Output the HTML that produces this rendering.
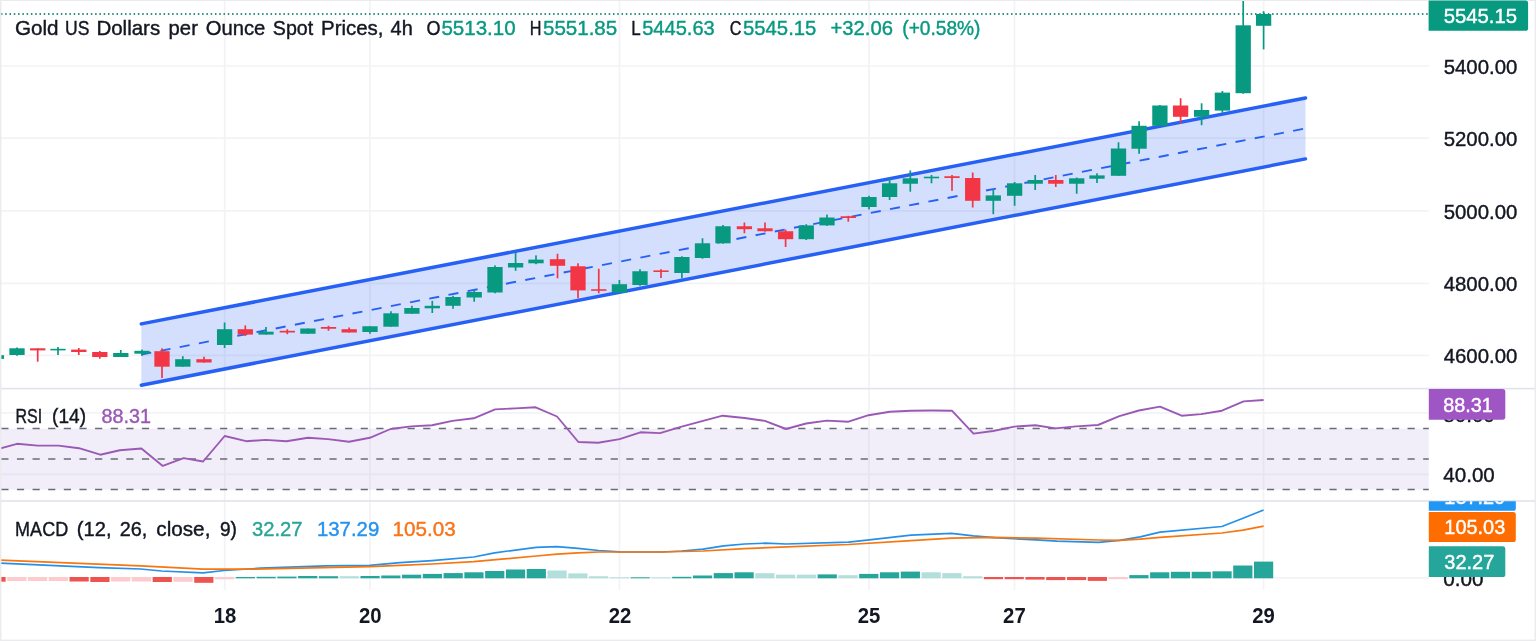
<!DOCTYPE html>
<html><head><meta charset="utf-8"><title>Gold chart</title>
<style>html,body{margin:0;padding:0;background:#fff;overflow:hidden}body{width:1536px;height:641px;position:relative;font-family:"Liberation Sans",sans-serif}</style>
</head><body>
<svg width="1536" height="641" viewBox="0 0 1536 641" style="position:absolute;left:0;top:0;will-change:transform;opacity:0.999;font-family:'Liberation Sans',sans-serif">
<rect x="0" y="0" width="1536" height="641" fill="#ffffff"/>
<line x1="224.7" y1="1" x2="224.7" y2="590" stroke="#f3f3f6" stroke-width="1.7"/>
<line x1="369.9" y1="1" x2="369.9" y2="590" stroke="#f3f3f6" stroke-width="1.7"/>
<line x1="619.5" y1="1" x2="619.5" y2="590" stroke="#f3f3f6" stroke-width="1.7"/>
<line x1="869.0" y1="1" x2="869.0" y2="590" stroke="#f3f3f6" stroke-width="1.7"/>
<line x1="1014.5" y1="1" x2="1014.5" y2="590" stroke="#f3f3f6" stroke-width="1.7"/>
<line x1="1263.6" y1="1" x2="1263.6" y2="590" stroke="#f3f3f6" stroke-width="1.7"/>
<line x1="1" y1="66" x2="1428.8" y2="66" stroke="#f3f3f6" stroke-width="1.7"/>
<line x1="1" y1="138.2" x2="1428.8" y2="138.2" stroke="#f3f3f6" stroke-width="1.7"/>
<line x1="1" y1="210.8" x2="1428.8" y2="210.8" stroke="#f3f3f6" stroke-width="1.7"/>
<line x1="1" y1="283.4" x2="1428.8" y2="283.4" stroke="#f3f3f6" stroke-width="1.7"/>
<line x1="1" y1="355.3" x2="1428.8" y2="355.3" stroke="#f3f3f6" stroke-width="1.7"/>
<line x1="1" y1="412.9" x2="1428.8" y2="412.9" stroke="#f3f3f6" stroke-width="1.7"/>
<line x1="1" y1="474.4" x2="1428.8" y2="474.4" stroke="#f3f3f6" stroke-width="1.7"/>
<line x1="1" y1="577.8" x2="1428.8" y2="577.8" stroke="#f3f3f6" stroke-width="1.7"/>
<rect x="0" y="428.7" width="1428.8" height="60.9" fill="#7e57c2" fill-opacity="0.1"/>
<line x1="1.3" y1="428.6" x2="1428.8" y2="428.6" stroke="#696c77" stroke-width="1.5" stroke-dasharray="7.2 8.425"/>
<line x1="1.3" y1="459.1" x2="1428.8" y2="459.1" stroke="#696c77" stroke-width="1.5" stroke-dasharray="7.2 8.425"/>
<line x1="1.3" y1="489.6" x2="1428.8" y2="489.6" stroke="#696c77" stroke-width="1.5" stroke-dasharray="7.2 8.425"/>
<line x1="0.95" y1="14.0" x2="1428.8" y2="14.0" stroke="#2f8f7e" stroke-width="2" stroke-dasharray="1.5 2.78"/>
<polygon points="141.3,323.9 1305.5,98.0 1305.5,158.9 141.3,385.2" fill="#2760f4" fill-opacity="0.2"/>
<line x1="141.3" y1="354.54999999999995" x2="1305.5" y2="128.45" stroke="#2760f4" stroke-width="1.9" stroke-dasharray="10.1 9.456"/>
<line x1="141.3" y1="323.9" x2="1305.5" y2="98.0" stroke="#2760f4" stroke-width="3.5" stroke-linecap="round"/>
<line x1="141.3" y1="385.2" x2="1305.5" y2="158.9" stroke="#2760f4" stroke-width="3.5" stroke-linecap="round"/>
<rect x="-4.45" y="354.6" width="1.7" height="4.60" fill="#089981"/>
<rect x="-11.25" y="355.2" width="15.3" height="3.70" fill="#089981"/>
<rect x="16.15" y="347.5" width="1.7" height="8.30" fill="#089981"/>
<rect x="9.35" y="348.3" width="15.3" height="6.70" fill="#089981"/>
<rect x="36.85" y="348.3" width="1.7" height="13.40" fill="#f23645"/>
<rect x="30.05" y="348.3" width="15.3" height="2.10" fill="#f23645"/>
<rect x="57.15" y="347.0" width="1.7" height="8.00" fill="#089981"/>
<rect x="50.35" y="348.8" width="15.3" height="1.60" fill="#089981"/>
<rect x="77.95" y="348.0" width="1.7" height="7.00" fill="#f23645"/>
<rect x="71.15" y="349.6" width="15.3" height="2.40" fill="#f23645"/>
<rect x="98.95" y="351.0" width="1.7" height="7.70" fill="#f23645"/>
<rect x="92.15" y="352.0" width="15.3" height="5.00" fill="#f23645"/>
<rect x="119.95" y="350.0" width="1.7" height="7.00" fill="#089981"/>
<rect x="113.15" y="353.0" width="15.3" height="4.00" fill="#089981"/>
<rect x="141.15" y="349.6" width="1.7" height="6.20" fill="#089981"/>
<rect x="134.35" y="350.8" width="15.3" height="2.90" fill="#089981"/>
<rect x="161.15" y="348.3" width="1.7" height="29.70" fill="#f23645"/>
<rect x="154.35" y="351.2" width="15.3" height="15.50" fill="#f23645"/>
<rect x="181.95" y="356.2" width="1.7" height="10.50" fill="#089981"/>
<rect x="175.15" y="359.2" width="15.3" height="7.50" fill="#089981"/>
<rect x="203.15" y="356.7" width="1.7" height="5.80" fill="#f23645"/>
<rect x="196.35" y="359.2" width="15.3" height="3.30" fill="#f23645"/>
<rect x="223.75" y="322.5" width="1.7" height="25.50" fill="#089981"/>
<rect x="216.95" y="329.2" width="15.3" height="15.80" fill="#089981"/>
<rect x="244.45" y="325.4" width="1.7" height="10.40" fill="#f23645"/>
<rect x="237.65" y="329.2" width="15.3" height="5.40" fill="#f23645"/>
<rect x="265.15" y="327.0" width="1.7" height="7.60" fill="#089981"/>
<rect x="258.35" y="331.7" width="15.3" height="2.90" fill="#089981"/>
<rect x="286.45" y="329.2" width="1.7" height="5.00" fill="#f23645"/>
<rect x="279.65" y="330.8" width="15.3" height="1.70" fill="#f23645"/>
<rect x="307.05" y="328.5" width="1.7" height="5.25" fill="#089981"/>
<rect x="300.25" y="328.5" width="15.3" height="5.25" fill="#089981"/>
<rect x="327.65" y="325.8" width="1.7" height="5.00" fill="#f23645"/>
<rect x="320.85" y="327.0" width="15.3" height="1.75" fill="#f23645"/>
<rect x="348.35" y="327.5" width="1.7" height="5.00" fill="#f23645"/>
<rect x="341.55" y="329.2" width="15.3" height="3.30" fill="#f23645"/>
<rect x="369.15" y="326.25" width="1.7" height="7.50" fill="#089981"/>
<rect x="362.35" y="326.25" width="15.3" height="5.75" fill="#089981"/>
<rect x="390.15" y="311.25" width="1.7" height="15.45" fill="#089981"/>
<rect x="383.35" y="313.3" width="15.3" height="13.40" fill="#089981"/>
<rect x="411.05" y="305.8" width="1.7" height="7.95" fill="#089981"/>
<rect x="404.25" y="308.0" width="15.3" height="5.75" fill="#089981"/>
<rect x="431.45" y="300.8" width="1.7" height="12.20" fill="#089981"/>
<rect x="424.65" y="305.8" width="15.3" height="2.50" fill="#089981"/>
<rect x="452.15" y="295.8" width="1.7" height="12.95" fill="#089981"/>
<rect x="445.35" y="297.0" width="15.3" height="8.80" fill="#089981"/>
<rect x="473.35" y="290.4" width="1.7" height="11.30" fill="#089981"/>
<rect x="466.55" y="292.0" width="15.3" height="5.50" fill="#089981"/>
<rect x="494.15" y="265.4" width="1.7" height="27.90" fill="#089981"/>
<rect x="487.35" y="267.0" width="15.3" height="25.50" fill="#089981"/>
<rect x="514.75" y="252.5" width="1.7" height="18.30" fill="#089981"/>
<rect x="507.95" y="263.0" width="15.3" height="4.50" fill="#089981"/>
<rect x="535.15" y="255.4" width="1.7" height="8.80" fill="#089981"/>
<rect x="528.35" y="259.6" width="15.3" height="3.70" fill="#089981"/>
<rect x="556.65" y="253.75" width="1.7" height="24.55" fill="#f23645"/>
<rect x="549.85" y="259.2" width="15.3" height="6.60" fill="#f23645"/>
<rect x="577.15" y="263.3" width="1.7" height="35.00" fill="#f23645"/>
<rect x="570.35" y="266.25" width="15.3" height="24.15" fill="#f23645"/>
<rect x="597.90" y="268.75" width="1.7" height="24.55" fill="#f23645"/>
<rect x="591.10" y="289.2" width="15.3" height="1.60" fill="#f23645"/>
<rect x="618.55" y="280.0" width="1.7" height="12.50" fill="#089981"/>
<rect x="611.75" y="284.2" width="15.3" height="8.30" fill="#089981"/>
<rect x="639.15" y="269.2" width="1.7" height="16.60" fill="#089981"/>
<rect x="632.35" y="271.25" width="15.3" height="13.75" fill="#089981"/>
<rect x="660.15" y="269.2" width="1.7" height="8.80" fill="#f23645"/>
<rect x="653.35" y="270.4" width="15.3" height="1.60" fill="#f23645"/>
<rect x="681.05" y="256.25" width="1.7" height="22.05" fill="#089981"/>
<rect x="674.25" y="257.0" width="15.3" height="16.00" fill="#089981"/>
<rect x="701.65" y="238.3" width="1.7" height="20.45" fill="#089981"/>
<rect x="694.85" y="243.3" width="15.3" height="14.70" fill="#089981"/>
<rect x="722.15" y="225.0" width="1.7" height="18.75" fill="#089981"/>
<rect x="715.35" y="226.25" width="15.3" height="17.05" fill="#089981"/>
<rect x="743.55" y="222.5" width="1.7" height="10.80" fill="#f23645"/>
<rect x="736.75" y="226.25" width="15.3" height="2.95" fill="#f23645"/>
<rect x="764.15" y="222.5" width="1.7" height="9.20" fill="#f23645"/>
<rect x="757.35" y="228.3" width="15.3" height="2.95" fill="#f23645"/>
<rect x="784.75" y="229.6" width="1.7" height="17.40" fill="#f23645"/>
<rect x="777.95" y="231.25" width="15.3" height="7.95" fill="#f23645"/>
<rect x="805.40" y="224.2" width="1.7" height="15.80" fill="#089981"/>
<rect x="798.60" y="225.4" width="15.3" height="13.80" fill="#089981"/>
<rect x="826.15" y="214.6" width="1.7" height="11.20" fill="#089981"/>
<rect x="819.35" y="217.5" width="15.3" height="7.90" fill="#089981"/>
<rect x="847.45" y="215.8" width="1.7" height="5.90" fill="#f23645"/>
<rect x="840.65" y="216.25" width="15.3" height="1.75" fill="#f23645"/>
<rect x="868.15" y="195.8" width="1.7" height="13.60" fill="#089981"/>
<rect x="861.35" y="197.0" width="15.3" height="10.00" fill="#089981"/>
<rect x="888.75" y="178.3" width="1.7" height="21.70" fill="#089981"/>
<rect x="881.95" y="183.3" width="15.3" height="13.70" fill="#089981"/>
<rect x="909.45" y="170.4" width="1.7" height="21.30" fill="#089981"/>
<rect x="902.65" y="178.3" width="15.3" height="5.45" fill="#089981"/>
<rect x="930.65" y="175.0" width="1.7" height="8.30" fill="#089981"/>
<rect x="923.85" y="176.7" width="15.3" height="1.60" fill="#089981"/>
<rect x="951.15" y="175.0" width="1.7" height="15.80" fill="#f23645"/>
<rect x="944.35" y="176.25" width="15.3" height="1.75" fill="#f23645"/>
<rect x="971.85" y="172.5" width="1.7" height="35.00" fill="#f23645"/>
<rect x="965.05" y="178.0" width="15.3" height="22.80" fill="#f23645"/>
<rect x="992.45" y="189.2" width="1.7" height="25.00" fill="#089981"/>
<rect x="985.65" y="195.4" width="15.3" height="5.40" fill="#089981"/>
<rect x="1013.75" y="182.0" width="1.7" height="23.80" fill="#089981"/>
<rect x="1006.95" y="183.3" width="15.3" height="12.50" fill="#089981"/>
<rect x="1034.35" y="175.0" width="1.7" height="15.00" fill="#089981"/>
<rect x="1027.55" y="180.0" width="15.3" height="3.75" fill="#089981"/>
<rect x="1054.95" y="175.0" width="1.7" height="12.00" fill="#f23645"/>
<rect x="1048.15" y="180.0" width="15.3" height="3.75" fill="#f23645"/>
<rect x="1075.85" y="177.5" width="1.7" height="16.25" fill="#089981"/>
<rect x="1069.05" y="178.3" width="15.3" height="5.45" fill="#089981"/>
<rect x="1096.15" y="173.3" width="1.7" height="9.70" fill="#089981"/>
<rect x="1089.35" y="175.4" width="15.3" height="3.35" fill="#089981"/>
<rect x="1117.65" y="142.3" width="1.7" height="33.50" fill="#089981"/>
<rect x="1110.85" y="148.5" width="15.3" height="27.30" fill="#089981"/>
<rect x="1138.25" y="121.3" width="1.7" height="32.50" fill="#089981"/>
<rect x="1131.45" y="125.8" width="15.3" height="22.95" fill="#089981"/>
<rect x="1159.05" y="105.0" width="1.7" height="20.80" fill="#089981"/>
<rect x="1152.25" y="105.5" width="15.3" height="20.30" fill="#089981"/>
<rect x="1179.75" y="98.2" width="1.7" height="25.30" fill="#f23645"/>
<rect x="1172.95" y="105.5" width="15.3" height="11.30" fill="#f23645"/>
<rect x="1200.75" y="103.3" width="1.7" height="21.90" fill="#089981"/>
<rect x="1193.95" y="110.0" width="15.3" height="6.80" fill="#089981"/>
<rect x="1221.55" y="91.0" width="1.7" height="21.80" fill="#089981"/>
<rect x="1214.75" y="92.6" width="15.3" height="18.00" fill="#089981"/>
<rect x="1242.35" y="0.5" width="1.7" height="93.25" fill="#089981"/>
<rect x="1235.55" y="25.3" width="15.3" height="67.90" fill="#089981"/>
<rect x="1262.75" y="11.2" width="1.7" height="38.20" fill="#089981"/>
<rect x="1255.95" y="14.0" width="15.3" height="11.80" fill="#089981"/>
<polyline fill="none" stroke="#9b59b6" stroke-width="1.9" stroke-linejoin="round" points="-4,449.5 17,443.8 37.8,445.6 58.6,445.6 79,448.2 100.3,454.7 119.8,450.3 141.4,448.5 162.8,465.9 183.6,458.1 203.1,461.5 224.7,436 246.1,441.2 265.6,439.9 286.5,441.2 308,437.8 328,439.1 349,441.7 369.8,437.8 390.6,429 411.25,426.4 432,425.3 452.4,420.9 473.75,418.3 495.1,409.4 515.4,408.4 535.7,407.3 557,416.5 578.4,442 598.2,442.8 619.6,439.1 640.4,432.3 660,433.1 680.8,426.9 702.1,421.1 722.7,415.7 744.6,418 764.9,420.9 786,429 806.1,423.5 826.9,420.6 848.5,421.7 868.6,415.2 889.7,411.8 911,410.7 931.9,410.5 951.9,410.7 973.5,433.6 993.1,431 1014.4,426.6 1035.3,425.3 1055.6,428.4 1076.4,426.4 1098,425 1119.4,416.2 1138.9,410.5 1160,406.6 1181.6,415.7 1201.1,414.1 1221.9,410.7 1243.6,401.4 1263.6,400"/>
<rect x="-13.58" y="577.00" width="19.2" height="4.70" fill="#ef5350"/>
<rect x="7.20" y="577.00" width="19.2" height="4.00" fill="#fccbcd"/>
<rect x="27.98" y="577.00" width="19.2" height="4.00" fill="#fccbcd"/>
<rect x="48.76" y="577.00" width="19.2" height="4.00" fill="#fccbcd"/>
<rect x="69.54" y="577.00" width="19.2" height="4.50" fill="#ef5350"/>
<rect x="90.32" y="577.00" width="19.2" height="5.00" fill="#ef5350"/>
<rect x="111.10" y="577.00" width="19.2" height="4.50" fill="#fccbcd"/>
<rect x="131.88" y="577.00" width="19.2" height="4.50" fill="#fccbcd"/>
<rect x="152.66" y="577.00" width="19.2" height="5.00" fill="#ef5350"/>
<rect x="173.44" y="577.00" width="19.2" height="4.80" fill="#fccbcd"/>
<rect x="194.22" y="577.00" width="19.2" height="5.80" fill="#ef5350"/>
<rect x="215.00" y="577.00" width="19.2" height="2.30" fill="#fccbcd"/>
<rect x="235.78" y="577.00" width="19.2" height="1.30" fill="#26a69a"/>
<rect x="256.56" y="576.80" width="19.2" height="1.50" fill="#26a69a"/>
<rect x="277.34" y="576.60" width="19.2" height="1.70" fill="#26a69a"/>
<rect x="298.12" y="576.00" width="19.2" height="2.30" fill="#26a69a"/>
<rect x="318.90" y="576.20" width="19.2" height="2.10" fill="#26a69a"/>
<rect x="339.68" y="576.20" width="19.2" height="2.10" fill="#b2dfdb"/>
<rect x="360.46" y="576.00" width="19.2" height="2.30" fill="#26a69a"/>
<rect x="381.24" y="575.50" width="19.2" height="2.80" fill="#26a69a"/>
<rect x="402.02" y="574.70" width="19.2" height="3.60" fill="#26a69a"/>
<rect x="422.80" y="573.90" width="19.2" height="4.40" fill="#26a69a"/>
<rect x="443.58" y="573.10" width="19.2" height="5.20" fill="#26a69a"/>
<rect x="464.36" y="572.30" width="19.2" height="6.00" fill="#26a69a"/>
<rect x="485.14" y="571.00" width="19.2" height="7.30" fill="#26a69a"/>
<rect x="505.92" y="569.50" width="19.2" height="8.80" fill="#26a69a"/>
<rect x="526.70" y="569.00" width="19.2" height="9.30" fill="#26a69a"/>
<rect x="547.48" y="570.50" width="19.2" height="7.80" fill="#b2dfdb"/>
<rect x="568.26" y="573.40" width="19.2" height="4.90" fill="#b2dfdb"/>
<rect x="589.04" y="576.25" width="19.2" height="2.05" fill="#b2dfdb"/>
<rect x="609.82" y="577.30" width="19.2" height="1.00" fill="#b2dfdb"/>
<rect x="630.60" y="577.30" width="19.2" height="1.00" fill="#26a69a"/>
<rect x="651.38" y="577.40" width="19.2" height="0.90" fill="#b2dfdb"/>
<rect x="672.16" y="576.80" width="19.2" height="1.50" fill="#26a69a"/>
<rect x="692.94" y="575.50" width="19.2" height="2.80" fill="#26a69a"/>
<rect x="713.72" y="573.10" width="19.2" height="5.20" fill="#26a69a"/>
<rect x="734.50" y="572.30" width="19.2" height="6.00" fill="#26a69a"/>
<rect x="755.28" y="573.20" width="19.2" height="5.10" fill="#b2dfdb"/>
<rect x="776.06" y="574.70" width="19.2" height="3.60" fill="#b2dfdb"/>
<rect x="796.84" y="574.70" width="19.2" height="3.60" fill="#b2dfdb"/>
<rect x="817.62" y="574.40" width="19.2" height="3.90" fill="#26a69a"/>
<rect x="838.40" y="575.20" width="19.2" height="3.10" fill="#b2dfdb"/>
<rect x="859.18" y="573.90" width="19.2" height="4.40" fill="#26a69a"/>
<rect x="879.96" y="572.30" width="19.2" height="6.00" fill="#26a69a"/>
<rect x="900.74" y="571.60" width="19.2" height="6.70" fill="#26a69a"/>
<rect x="921.52" y="572.30" width="19.2" height="6.00" fill="#b2dfdb"/>
<rect x="942.30" y="573.10" width="19.2" height="5.20" fill="#b2dfdb"/>
<rect x="963.08" y="576.25" width="19.2" height="2.05" fill="#b2dfdb"/>
<rect x="983.86" y="577.00" width="19.2" height="2.20" fill="#ef5350"/>
<rect x="1004.64" y="577.00" width="19.2" height="2.20" fill="#ef5350"/>
<rect x="1025.42" y="577.00" width="19.2" height="2.60" fill="#ef5350"/>
<rect x="1046.20" y="577.00" width="19.2" height="3.10" fill="#ef5350"/>
<rect x="1066.98" y="577.00" width="19.2" height="3.10" fill="#ef5350"/>
<rect x="1087.76" y="577.00" width="19.2" height="3.90" fill="#ef5350"/>
<rect x="1108.54" y="577.00" width="19.2" height="2.20" fill="#fccbcd"/>
<rect x="1129.32" y="575.10" width="19.2" height="3.20" fill="#26a69a"/>
<rect x="1150.10" y="572.30" width="19.2" height="6.00" fill="#26a69a"/>
<rect x="1170.88" y="571.80" width="19.2" height="6.50" fill="#26a69a"/>
<rect x="1191.66" y="571.80" width="19.2" height="6.50" fill="#26a69a"/>
<rect x="1212.44" y="571.30" width="19.2" height="7.00" fill="#26a69a"/>
<rect x="1233.22" y="565.50" width="19.2" height="12.80" fill="#26a69a"/>
<rect x="1254.00" y="561.60" width="19.2" height="16.70" fill="#26a69a"/>
<polyline fill="none" stroke="#2490ea" stroke-width="1.7" stroke-linejoin="round" points="-4,563.3 0,563.2 99,567.7 140.6,569 161.5,571 203,572.9 224,570.5 260.4,568.2 325.5,565.8 369.8,565.3 400,562.7 432,560.6 473.75,557 494.6,552.8 536.25,547.3 557,546.6 578,548.4 598.75,550.5 619.6,551.8 661.25,552 682,551 703,549.2 723.75,545.8 744.6,544 765.4,543.2 786,544 848.5,542.1 869.4,539.8 911,535.1 951.4,533.3 973.5,535.9 994.4,537.7 1036,539.8 1056.9,541.1 1098.5,542.4 1119.4,540.3 1140.2,536.9 1160,532.2 1221.9,526.5 1243,518.3 1263.6,510"/>
<polyline fill="none" stroke="#f77610" stroke-width="1.7" stroke-linejoin="round" points="-4,560.0 0,560.1 140.6,565.8 203,569.2 250,569.2 369.8,566.6 400,565.3 432,564 473.75,561.7 536.25,556 557,554.1 578,552.8 598.75,552 619.6,552 661.25,552 703,551 744.6,548.6 780,547.1 848.5,544.5 911,540.6 951.4,538.2 994.4,537.4 1036,538.2 1098.5,540 1119.4,540.3 1140,539.2 1160,537.4 1221.9,533 1243,530.2 1263.6,526.2"/>
<rect x="0" y="387.8" width="1536" height="1.6" fill="#e0e3eb"/>
<rect x="0" y="500.2" width="1536" height="1.6" fill="#e0e3eb"/>
<rect x="0" y="0" width="1536" height="1" fill="#ebebee"/>
<rect x="0" y="639.6" width="1536" height="1.4" fill="#ebebee"/>
<rect x="0" y="0" width="1.4" height="641" fill="#ebebee"/>
<rect x="1534.6" y="0" width="1.4" height="641" fill="#ebebee"/>
<text x="15.0" y="34.6" font-size="21.0" fill="#131722" stroke="#131722" stroke-width="0.42" textLength="43.6" lengthAdjust="spacingAndGlyphs">Gold</text>
<text x="65.1" y="34.6" font-size="21.0" fill="#131722" stroke="#131722" stroke-width="0.42" textLength="24.4" lengthAdjust="spacingAndGlyphs">US</text>
<text x="96.4" y="34.6" font-size="21.0" fill="#131722" stroke="#131722" stroke-width="0.42" textLength="63.8" lengthAdjust="spacingAndGlyphs">Dollars</text>
<text x="168.6" y="34.6" font-size="21.0" fill="#131722" stroke="#131722" stroke-width="0.42" textLength="29.3" lengthAdjust="spacingAndGlyphs">per</text>
<text x="205.7" y="34.6" font-size="21.0" fill="#131722" stroke="#131722" stroke-width="0.42" textLength="59.6" lengthAdjust="spacingAndGlyphs">Ounce</text>
<text x="272.8" y="34.6" font-size="21.0" fill="#131722" stroke="#131722" stroke-width="0.42" textLength="40.4" lengthAdjust="spacingAndGlyphs">Spot</text>
<text x="321" y="34.6" font-size="21.0" fill="#131722" stroke="#131722" stroke-width="0.42" textLength="62.5" lengthAdjust="spacingAndGlyphs">Prices,</text>
<text x="390.6" y="34.6" font-size="21.0" fill="#131722" stroke="#131722" stroke-width="0.42" textLength="22.2" lengthAdjust="spacingAndGlyphs">4h</text>
<text x="426.6" y="34.6" font-size="21.0" fill="#131722" stroke="#131722" stroke-width="0.42" textLength="14" lengthAdjust="spacingAndGlyphs">O</text>
<text x="441.4" y="34.6" font-size="21.0" fill="#089981" stroke="#089981" stroke-width="0.42" textLength="74.2" lengthAdjust="spacingAndGlyphs">5513.10</text>
<text x="529.7" y="34.6" font-size="21.0" fill="#131722" stroke="#131722" stroke-width="0.42" textLength="11.7" lengthAdjust="spacingAndGlyphs">H</text>
<text x="543" y="34.6" font-size="21.0" fill="#089981" stroke="#089981" stroke-width="0.42" textLength="74.2" lengthAdjust="spacingAndGlyphs">5551.85</text>
<text x="631.25" y="34.6" font-size="21.0" fill="#131722" stroke="#131722" stroke-width="0.42" textLength="9.4" lengthAdjust="spacingAndGlyphs">L</text>
<text x="642.2" y="34.6" font-size="21.0" fill="#089981" stroke="#089981" stroke-width="0.42" textLength="72.6" lengthAdjust="spacingAndGlyphs">5445.63</text>
<text x="729.7" y="34.6" font-size="21.0" fill="#131722" stroke="#131722" stroke-width="0.42" textLength="11.7" lengthAdjust="spacingAndGlyphs">C</text>
<text x="743" y="34.6" font-size="21.0" fill="#089981" stroke="#089981" stroke-width="0.42" textLength="73.4" lengthAdjust="spacingAndGlyphs">5545.15</text>
<text x="830.5" y="34.6" font-size="21.0" fill="#089981" stroke="#089981" stroke-width="0.42" textLength="62.5" lengthAdjust="spacingAndGlyphs">+32.06</text>
<text x="902.3" y="34.6" font-size="21.0" fill="#089981" stroke="#089981" stroke-width="0.42" textLength="78.2" lengthAdjust="spacingAndGlyphs">(+0.58%)</text>
<text x="15.6" y="423.2" font-size="21.0" fill="#131722" stroke="#131722" stroke-width="0.42" textLength="26.6" lengthAdjust="spacingAndGlyphs">RSI</text>
<text x="52.1" y="423.2" font-size="21.0" fill="#131722" stroke="#131722" stroke-width="0.42" textLength="33.9" lengthAdjust="spacingAndGlyphs">(14)</text>
<text x="101.5" y="423.2" font-size="21.0" fill="#9b59b6" stroke="#9b59b6" stroke-width="0.42" textLength="49.5" lengthAdjust="spacingAndGlyphs">88.31</text>
<text x="15.1" y="536.1" font-size="21.0" fill="#131722" stroke="#131722" stroke-width="0.42" textLength="53.1" lengthAdjust="spacingAndGlyphs">MACD</text>
<text x="76.8" y="536.1" font-size="21.0" fill="#131722" stroke="#131722" stroke-width="0.42" textLength="34.7" lengthAdjust="spacingAndGlyphs">(12,</text>
<text x="119.8" y="536.1" font-size="21.0" fill="#131722" stroke="#131722" stroke-width="0.42" textLength="27.6" lengthAdjust="spacingAndGlyphs">26,</text>
<text x="156.3" y="536.1" font-size="21.0" fill="#131722" stroke="#131722" stroke-width="0.42" textLength="54.1" lengthAdjust="spacingAndGlyphs">close,</text>
<text x="220" y="536.1" font-size="21.0" fill="#131722" stroke="#131722" stroke-width="0.42" textLength="17" lengthAdjust="spacingAndGlyphs">9)</text>
<text x="252" y="536.1" font-size="21.0" fill="#28a597" stroke="#28a597" stroke-width="0.42" textLength="50.6" lengthAdjust="spacingAndGlyphs">32.27</text>
<text x="317.0" y="536.1" font-size="21.0" fill="#2593ee" stroke="#2593ee" stroke-width="0.42" textLength="62.2" lengthAdjust="spacingAndGlyphs">137.29</text>
<text x="392.6" y="536.1" font-size="21.0" fill="#f8741a" stroke="#f8741a" stroke-width="0.42" textLength="63.2" lengthAdjust="spacingAndGlyphs">105.03</text>
<text x="1443.7" y="74.4" font-size="21.0" fill="#131722" stroke="#131722" stroke-width="0.42" textLength="73.6" lengthAdjust="spacingAndGlyphs">5400.00</text>
<text x="1443.7" y="146.2" font-size="21.0" fill="#131722" stroke="#131722" stroke-width="0.42" textLength="73.6" lengthAdjust="spacingAndGlyphs">5200.00</text>
<text x="1443.7" y="218.5" font-size="21.0" fill="#131722" stroke="#131722" stroke-width="0.42" textLength="73.6" lengthAdjust="spacingAndGlyphs">5000.00</text>
<text x="1443.7" y="290.9" font-size="21.0" fill="#131722" stroke="#131722" stroke-width="0.42" textLength="73.6" lengthAdjust="spacingAndGlyphs">4800.00</text>
<text x="1443.7" y="363.0" font-size="21.0" fill="#131722" stroke="#131722" stroke-width="0.42" textLength="73.6" lengthAdjust="spacingAndGlyphs">4600.00</text>
<text x="1443.3" y="421.6" font-size="21.0" fill="#131722" stroke="#131722" stroke-width="0.42" textLength="51.5" lengthAdjust="spacingAndGlyphs">80.00</text>
<text x="1443.3" y="482.2" font-size="21.0" fill="#131722" stroke="#131722" stroke-width="0.42" textLength="51.5" lengthAdjust="spacingAndGlyphs">40.00</text>
<text x="1443.3" y="585.8" font-size="21.0" fill="#131722" stroke="#131722" stroke-width="0.42" textLength="40.3" lengthAdjust="spacingAndGlyphs">0.00</text>
<path d="M1428.6,0.6 H1525.5 Q1528.1,0.6 1528.1,3.2 V28.2 Q1528.1,30.8 1525.5,30.8 H1428.6 Z" fill="#089981"/>
<text x="1443.7" y="22.9" font-size="21.0" fill="#ffffff" stroke="#ffffff" stroke-width="0.42" textLength="73.4" lengthAdjust="spacingAndGlyphs">5545.15</text>
<path d="M1428.8,389.0 H1502.7 Q1505.3,389.0 1505.3,391.6 V417.09999999999997 Q1505.3,419.7 1502.7,419.7 H1428.8 Z" fill="#a055c4"/>
<text x="1443.2" y="411.8" font-size="21.0" fill="#ffffff" stroke="#ffffff" stroke-width="0.42" textLength="49.6" lengthAdjust="spacingAndGlyphs">88.31</text>
<clipPath id="cm"><rect x="1400" y="501.2" width="140" height="140"/></clipPath>
<g clip-path="url(#cm)">
<path d="M1428.8,480.6 H1513.2 Q1515.8,480.6 1515.8,483.20000000000005 V508.2 Q1515.8,510.8 1513.2,510.8 H1428.8 Z" fill="#2196f3"/>
<text x="1444.3" y="503.9" font-size="21.0" fill="#ffffff" stroke="#ffffff" stroke-width="0.42" textLength="61" lengthAdjust="spacingAndGlyphs">137.29</text>
</g>
<path d="M1428.8,511.9 H1513.2 Q1515.8,511.9 1515.8,514.5 V539.5 Q1515.8,542.1 1513.2,542.1 H1428.8 Z" fill="#ff6d00"/>
<text x="1444.3" y="534.4" font-size="21.0" fill="#ffffff" stroke="#ffffff" stroke-width="0.42" textLength="61" lengthAdjust="spacingAndGlyphs">105.03</text>
<path d="M1428.8,546.3 H1502.7 Q1505.3,546.3 1505.3,548.9 V574.4 Q1505.3,577.0 1502.7,577.0 H1428.8 Z" fill="#26a69a"/>
<text x="1444.3" y="569.0" font-size="21.0" fill="#ffffff" stroke="#ffffff" stroke-width="0.42" textLength="50" lengthAdjust="spacingAndGlyphs">32.27</text>
<text x="225" y="623.4" font-size="21.6" font-weight="700" fill="#131722" text-anchor="middle" textLength="22.6" lengthAdjust="spacingAndGlyphs">18</text>
<text x="370.3" y="623.4" font-size="21.6" font-weight="700" fill="#131722" text-anchor="middle" textLength="22.6" lengthAdjust="spacingAndGlyphs">20</text>
<text x="620" y="623.4" font-size="21.6" font-weight="700" fill="#131722" text-anchor="middle" textLength="22.6" lengthAdjust="spacingAndGlyphs">22</text>
<text x="869" y="623.4" font-size="21.6" font-weight="700" fill="#131722" text-anchor="middle" textLength="22.6" lengthAdjust="spacingAndGlyphs">25</text>
<text x="1014.4" y="623.4" font-size="21.6" font-weight="700" fill="#131722" text-anchor="middle" textLength="22.6" lengthAdjust="spacingAndGlyphs">27</text>
<text x="1263.6" y="623.4" font-size="21.6" font-weight="700" fill="#131722" text-anchor="middle" textLength="22.6" lengthAdjust="spacingAndGlyphs">29</text>
</svg>
</body></html>
